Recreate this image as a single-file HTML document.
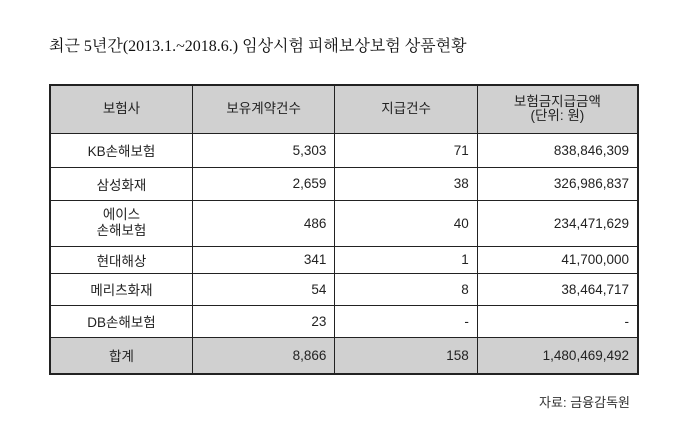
<!DOCTYPE html>
<html><head><meta charset="utf-8"><style>
body{margin:0;width:680px;height:443px;background:#fff;font-family:"Liberation Sans","Noto Sans CJK KR",sans-serif;position:relative;overflow:hidden}
.t{position:absolute;left:49px;top:33px;font-family:"Liberation Serif","Noto Serif CJK SC",serif;font-size:16px;color:#111}
table{position:absolute;left:49px;top:84px;border-collapse:collapse;width:590px;font-size:13.5px;color:#222}
td{border:1px solid #222;padding:0 8px;text-align:right}
td:first-child{text-align:center}
tr.h td{background:#d0d0d0;text-align:center;line-height:14px}
tr.s td{background:#d0d0d0}
table{border:2px solid #222}
.f{position:absolute;right:50px;top:392px;font-size:13px;color:#333}
</style></head><body>
<div class="t">최근 5년간(2013.1.~2018.6.) 임상시험 피해보상보험 상품현황</div>
<table>
<colgroup><col style="width:143px"><col style="width:143px"><col style="width:143px"><col style="width:161px"></colgroup>
<tr class="h" style="height:48px"><td>보험사</td><td>보유계약건수</td><td>지급건수</td><td>보험금지급금액<br>(단위: 원)</td></tr>
<tr style="height:34px"><td>KB손해보험</td><td>5,303</td><td>71</td><td>838,846,309</td></tr>
<tr style="height:33px"><td>삼성화재</td><td>2,659</td><td>38</td><td>326,986,837</td></tr>
<tr style="height:46px"><td style="line-height:16px">에이스<br>손해보험</td><td>486</td><td>40</td><td>234,471,629</td></tr>
<tr style="height:27px"><td>현대해상</td><td>341</td><td>1</td><td>41,700,000</td></tr>
<tr style="height:32px"><td>메리츠화재</td><td>54</td><td>8</td><td>38,464,717</td></tr>
<tr style="height:32px"><td>DB손해보험</td><td>23</td><td>-</td><td>-</td></tr>
<tr class="s" style="height:37px"><td>합계</td><td>8,866</td><td>158</td><td>1,480,469,492</td></tr>
</table>
<div class="f">자료: 금융감독원</div>
</body></html>
